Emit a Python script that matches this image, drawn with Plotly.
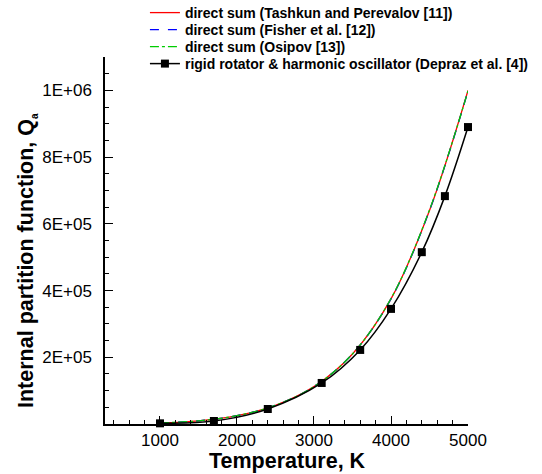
import plotly.graph_objects as go

# Direct-sum curves
T_direct = [1000, 1500, 2000, 2500, 3000, 3500, 4000, 4500, 5000]
Q_tashkun = [3.0e3, 9.5e3, 2.5e4, 5.6e4, 1.12e5, 2.10e5, 3.75e5, 6.40e5, 1.000e6]
Q_fisher = [3.0e3, 9.5e3, 2.5e4, 5.6e4, 1.12e5, 2.10e5, 3.75e5, 6.40e5, 0.998e6]
Q_osipov = [3.0e3, 9.5e3, 2.5e4, 5.6e4, 1.12e5, 2.10e5, 3.76e5, 6.42e5, 0.998e6]

# Rigid rotator & harmonic oscillator
T_rrho = [1000, 1700, 2400, 3100, 3600, 4000, 4400, 4700, 5000]
Q_rrho = [2.0e3, 9.0e3, 4.5e4, 1.23e5, 2.22e5, 3.45e5, 5.15e5, 6.83e5, 8.90e5]

names = [
    "direct sum (Tashkun and Perevalov [11])",
    "direct sum (Fisher et al. [12])",
    "direct sum (Osipov [13])",
    "rigid rotator & harmonic oscillator (Depraz et al. [4])",
]

y_tickvals = [2e5, 4e5, 6e5, 8e5, 1e6]
y_ticktext = ["2E+05", "4E+05", "6E+05", "8E+05", "1E+06"]
x_tickvals = [1000, 2000, 3000, 4000, 5000]
x_ticktext = ["1000", "2000", "3000", "4000", "5000"]

x_title = "<b>Temperature, K</b>"
y_title = "<b>Internal partition function, Q<sub><span style='font-size:10px'>a</span></sub></b>"

FONT = "Liberation Sans, Arial, sans-serif"

fig = go.Figure()
fig.add_trace(go.Scatter(x=T_direct, y=Q_tashkun, mode="lines", name=names[0], legend="legend",
                         cliponaxis=False,
                         line=dict(color="#ff0000", width=1.3, shape="spline")))
fig.add_trace(go.Scatter(x=T_direct, y=Q_fisher, mode="lines", name=names[1], legend="legend2",
                         cliponaxis=False,
                         line=dict(color="#0000ff", width=1.3, dash="dash", shape="spline")))
fig.add_trace(go.Scatter(x=T_direct, y=Q_osipov, mode="lines", name=names[2], legend="legend3",
                         cliponaxis=False,
                         line=dict(color="#00cc00", width=1.3, dash="dashdot", shape="spline")))
fig.add_trace(go.Scatter(x=T_rrho, y=Q_rrho, mode="lines+markers", name=names[3], legend="legend4",
                         cliponaxis=False,
                         line=dict(color="#000000", width=1.5, shape="spline"),
                         marker=dict(symbol="square", size=8, color="#000000")))

legend_rows_px = [13, 30, 47, 64]   # pixel centers of legend rows
plot_top, plot_bottom = 57, 424
plot_left, plot_right = 105, 468
leg_common = dict(x=0.11, xanchor="left", yanchor="middle",
                  bgcolor="rgba(0,0,0,0)",
                  font=dict(family=FONT, size=14, color="black", weight="bold"),
                  itemwidth=30)
legends = {}
for i, py in enumerate(legend_rows_px):
    key = "legend" if i == 0 else f"legend{i+1}"
    legends[key] = dict(y=(plot_bottom - py) / (plot_bottom - plot_top), **leg_common)

fig.update_layout(
    width=542, height=474,
    margin=dict(l=plot_left, r=542 - plot_right, t=plot_top, b=474 - plot_bottom, autoexpand=False),
    paper_bgcolor="white", plot_bgcolor="white",
    font=dict(family=FONT, color="black"),
    showlegend=True,
    **legends,
)

# y-axis title as rotated text, placed like the reference
fig.add_annotation(
    text=y_title, textangle=-90, showarrow=False,
    xref="paper", yref="paper",
    x=(27 - plot_left) / (plot_right - plot_left), y=(plot_bottom - 261) / (plot_bottom - plot_top),
    xanchor="center", yanchor="middle",
    font=dict(family=FONT, size=21.5, color="black"),
)
# x-axis title
fig.add_annotation(
    text=x_title, showarrow=False,
    xref="paper", yref="paper",
    x=(287 - plot_left) / (plot_right - plot_left), y=(plot_bottom - 461) / (plot_bottom - plot_top),
    xanchor="center", yanchor="middle",
    font=dict(family=FONT, size=21.5, color="black"),
)

fig.update_xaxes(
    range=[286, 5000],
    showline=True, linecolor="black", linewidth=1.5, mirror=False,
    showgrid=False, zeroline=False,
    ticks="inside", ticklen=8, tickwidth=1.2, tickcolor="black",
    tickvals=x_tickvals, ticktext=x_ticktext, ticklabelstandoff=0,
    tickfont=dict(family=FONT, size=17, color="black"),
    minor=dict(ticks="inside", ticklen=4, tickwidth=1, tickcolor="black",
               tick0=0, dtick=200, showgrid=False),
)
fig.update_yaxes(
    range=[0, 1.1e6],
    showline=True, linecolor="black", linewidth=1.5, mirror=False,
    showgrid=False, zeroline=False,
    ticks="inside", ticklen=8, tickwidth=1.2, tickcolor="black",
    tickvals=y_tickvals, ticktext=y_ticktext, ticklabelstandoff=8,
    tickfont=dict(family=FONT, size=17, color="black"),
    minor=dict(ticks="inside", ticklen=4, tickwidth=1, tickcolor="black",
               tick0=0, dtick=5e4, showgrid=False),
)

fig.write_html("out.html")
